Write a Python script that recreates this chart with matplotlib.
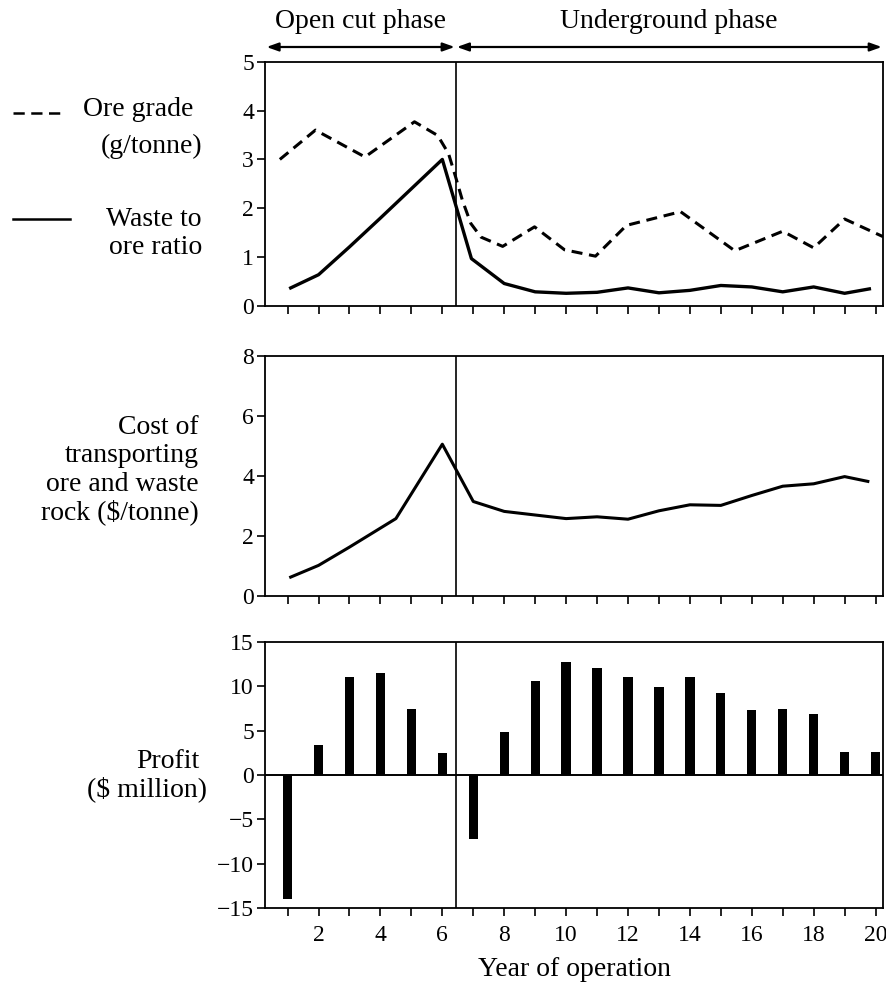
import matplotlib
matplotlib.use("Agg")
import matplotlib.pyplot as plt
from matplotlib.lines import Line2D

plt.rcParams['font.family'] = ['Liberation Serif', 'DejaVu Serif']

# ---------------- data ----------------
years = list(range(1, 21))
xtick_labels = [str(y) if y % 2 == 0 else '' for y in years]

grade_years = [0.75, 1.9, 3.5, 5.1, 5.85, 6.2, 6.43, 6.65, 6.92, 7.25, 7.95, 8.98,
               9.95, 10.95, 11.95, 13.7, 15.45, 17.0, 18.0, 19.0, 20.24]
ore_grade = [3.0, 3.6, 3.05, 3.77, 3.49, 3.12, 2.64, 2.16, 1.69, 1.41, 1.22, 1.62,
             1.15, 1.02, 1.65, 1.93, 1.13, 1.53, 1.19, 1.78, 1.42]

waste_years = [1.1, 2, 3, 4, 5, 6, 6.94, 8, 9, 10, 11, 12, 13, 14, 15, 16, 17, 18, 19, 19.8]
waste_ratio = [0.37, 0.64, 1.21, 1.8, 2.4, 3.0, 0.97, 0.46, 0.29, 0.26, 0.28, 0.37,
               0.27, 0.32, 0.42, 0.39, 0.29, 0.39, 0.26, 0.35]

cost_years = [1.1, 2, 3, 4.5, 6, 7, 8, 9, 10, 11, 12, 13, 14, 15, 16, 17, 18, 19, 19.75]
transport_cost = [0.63, 1.02, 1.63, 2.58, 5.06, 3.15, 2.82, 2.7, 2.58, 2.64, 2.56, 2.84,
                  3.04, 3.02, 3.35, 3.66, 3.74, 3.98, 3.82]

profit = [-14.0, 3.4, 11.1, 11.5, 7.4, 2.5, -7.2, 4.85, 10.6, 12.7, 12.05, 11.0,
          9.9, 11.05, 9.2, 7.3, 7.4, 6.9, 2.55, 2.55]

phase_change = 6.43
XLIM = (0.27, 20.24)

# ---------------- figure ----------------
W, H = 887, 991
fig = plt.figure(figsize=(W / 100, H / 100), dpi=100)

def px_axes(top, bottom, left=265, right=883):
    return fig.add_axes([left / W, 1 - bottom / H, (right - left) / W, (bottom - top) / H])

ax1 = px_axes(61.7, 306)
ax2 = px_axes(356, 596)
ax3 = px_axes(642, 908)

TICK_FS = 17
LAB_FS = 20

for ax in (ax1, ax2, ax3):
    ax.set_xlim(*XLIM)
    ax.set_xticks(years)
    ax.set_xticklabels([])
    for s in ax.spines.values():
        s.set_linewidth(1.3)
    ax.tick_params(direction='out', length=6, width=1.2, labelsize=TICK_FS, pad=2)
    ax.axvline(phase_change, color='black', lw=1.2)

ax3.set_xticklabels(xtick_labels)
ax3.tick_params(axis='x', pad=6)

# top panel
ax1.plot(grade_years, ore_grade, color='black', lw=2.2, ls=(0, (3.6, 2.2)))
ax1.plot(waste_years, waste_ratio, color='black', lw=2.4)
ax1.set_ylim(0, 5)
ax1.set_yticks([0, 1, 2, 3, 4, 5])

# middle panel
ax2.plot(cost_years, transport_cost, color='black', lw=2.2)
ax2.set_ylim(0, 8)
ax2.set_yticks([0, 2, 4, 6, 8])

# bottom panel
ax3.bar(years, profit, width=0.3, color='black')
ax3.axhline(0, color='black', lw=1.4)
ax3.set_ylim(-15, 15)
ax3.set_yticks([-15, -10, -5, 0, 5, 10, 15])
ax3.set_yticklabels(['\u221215', '\u221210', '\u22125', '0', '5', '10', '15'])
ax3.set_xlabel('Year of operation', fontsize=LAB_FS, labelpad=8)

# phase arrows and titles
def fy(ypx):
    return (306 - ypx) / (306 - 61.7)

trans = ax1.get_xaxis_transform()
arrow_kw = dict(arrowstyle='<|-|>,head_length=0.7,head_width=0.25', lw=1.6,
                color='black', shrinkA=0, shrinkB=0)
ax1.annotate('', xy=(0.32, fy(47)), xytext=(6.4, fy(47)), xycoords=trans,
             textcoords=trans, arrowprops=arrow_kw, annotation_clip=False)
ax1.annotate('', xy=(6.47, fy(47)), xytext=(20.2, fy(47)), xycoords=trans,
             textcoords=trans, arrowprops=arrow_kw, annotation_clip=False)
ax1.text(3.37, fy(22), 'Open cut phase', transform=trans, ha='center', va='center',
         fontsize=LAB_FS)
ax1.text(13.33, fy(22), 'Underground phase', transform=trans, ha='center', va='center',
         fontsize=LAB_FS)

# left-hand labels
def ftext(x, y, s, **kw):
    fig.text(x / W, 1 - y / H, s, ha='right', va='center', fontsize=LAB_FS, **kw)

fig.add_artist(Line2D([12.7 / W, 65 / W], [1 - 113 / H] * 2, color='black', lw=1.8,
                      ls=(0, (4.5, 2.6))))
ftext(193, 110, 'Ore grade')
ftext(202, 146, '(g/tonne)')
fig.add_artist(Line2D([13 / W, 70 / W], [1 - 219 / H] * 2, color='black', lw=1.8))
ftext(202, 220, 'Waste to')
ftext(202, 248, 'ore ratio')

ftext(199, 428, 'Cost of')
ftext(199, 456, 'transporting')
ftext(199, 484, 'ore and waste')
ftext(199, 512, 'rock ($/tonne)')

ftext(199, 761, 'Profit')
ftext(207, 789, '($ million)')

fig.savefig('out.png', dpi=100)
